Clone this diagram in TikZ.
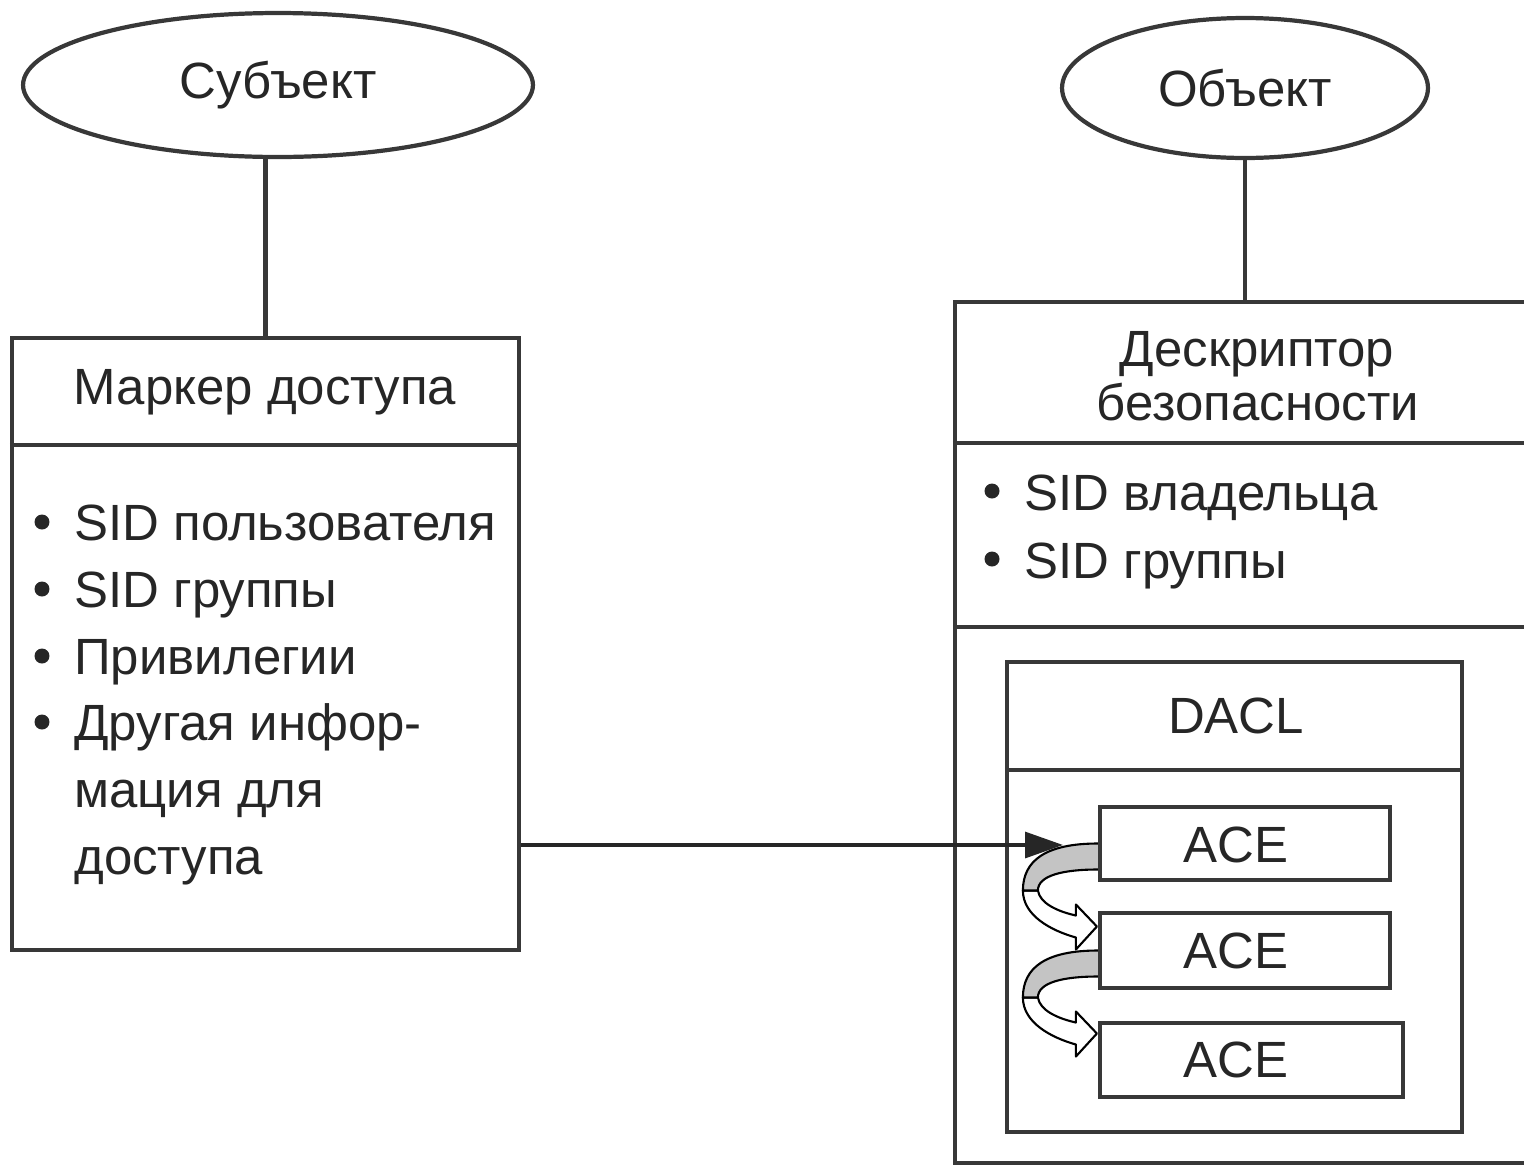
\documentclass[tikz,border=0pt]{standalone}
\usepackage{fontspec}
\setmainfont{Liberation Sans}
\usetikzlibrary{shapes.geometric,arrows.meta,fit}
\definecolor{ink}{HTML}{262626}
\definecolor{frame}{HTML}{383838}
\definecolor{ribbon}{HTML}{C4C4C4}
\begin{document}
\begin{tikzpicture}[x=0.02cm,y=-0.02cm,
  frame/.style={draw=frame, line width=2.4pt},
  box/.style={frame, rectangle, inner sep=0pt},
  oval/.style={frame, ellipse, inner sep=0pt, text=ink, font=\fontsize{29}{35}\selectfont},
  label/.style={text=ink, font=\fontsize{29}{35}\selectfont, inner sep=0pt, align=center},
  item/.style={label, anchor=base west},
  dot/.style={circle, fill=ink, inner sep=0pt, minimum size=0.3cm},
  turn/.pic={
    % white back side of the twisted ribbon with its open head
    \draw[fill=white, line width=1.2pt, line join=round]
      (-60,47) .. controls (-58,60) and (-40,68) .. (-22,72)
      -- (-22,61) -- (-1,83) -- (-22,106) -- (-22,94)
      .. controls (-47,87) and (-75,72) .. (-75,47) -- cycle;
    % grey front side leaving the entry
    \draw[fill=ribbon, line width=1.2pt, line join=round]
      (0,0) .. controls (-52,0) and (-75,17) .. (-75,47)
      -- (-60,47) .. controls (-60,32) and (-35,26) .. (0,26);
  }]
\useasboundingbox (0,0) rectangle (1524,1167);

% subject side
\node[oval, minimum width=10.2cm, minimum height=2.88cm] (subj) at (278,85) {Субъект};
\node[box, fit={(12,338) (519,950)}] (token) {};
\coordinate (tokdiv) at (0,445);
\draw[frame] (token.west |- tokdiv) -- (token.east |- tokdiv);
\draw[frame] (token.north |- subj.south) -- (token.north);
\node[label] (tokhead) at (265,392) {Маркер доступа};

\node[dot] (tb1) at (42,522) {};
\node[dot] (tb2) at (42,589) {};
\node[dot] (tb3) at (42,656) {};
\node[dot] (tb4) at (42,722) {};
\node[item] (ti1) at (74,540) {SID пользователя};
\node[item] (ti2) at (74,607) {SID группы};
\node[item] (ti3) at (74,674) {Привилегии};
\node[item] (ti4) at (74,740) {Другая инфор-};
\node[item] (ti5) at (74,807) {мация для};
\node[item] (ti6) at (74,874) {доступа};

% object side
\node[oval, minimum width=7.32cm, minimum height=2.8cm] (obj) at (1245,88) {Объект};
\node[box, fit={(955,302) (1545,1163)}] (desc) {};
\coordinate (descdiv1) at (0,443);
\coordinate (descdiv2) at (0,627);
\draw[frame] (desc.west |- descdiv1) -- (desc.east |- descdiv1);
\draw[frame] (desc.west |- descdiv2) -- (desc.east |- descdiv2);
\draw[frame] (obj.south) -- (obj.south |- desc.north);
\node[item, anchor=base] (dh1) at (1257,366) {Дескриптор};
\node[item, anchor=base] (dh2) at (1258,420) {безопасности};

\node[dot] (db1) at (992,491) {};
\node[dot] (db2) at (992,559) {};
\node[item] (di1) at (1024,510) {SID владельца};
\node[item] (di2) at (1024,578) {SID группы};

\node[box, fit={(1007,662) (1462,1132)}] (dacl) {};
\coordinate (dacldiv) at (0,770);
\draw[frame] (dacl.west |- dacldiv) -- (dacl.east |- dacldiv);
\node[label] (daclt) at (1236,716) {DACL};

\node[box, fit={(1100,807) (1390,880)}] (ace1) {};
\node[box, fit={(1100,913) (1390,988)}] (ace2) {};
\node[box, fit={(1100,1023) (1403,1097)}] (ace3) {};
\node[label] (acet1) at (1236,845) {ACE};
\node[label] (acet2) at (1236,951) {ACE};
\node[label] (acet3) at (1236,1060) {ACE};

% access check enters the list and walks from entry to entry
\coordinate (hit) at (1063,845);
\draw[draw=ink, line width=1.8pt, -{Triangle[length=0.76cm,width=0.52cm]}]
  (token.east |- hit) -- (hit);
\pic at (ace1.west) {turn};
\pic at (ace2.west) {turn};
\end{tikzpicture}
\end{document}
